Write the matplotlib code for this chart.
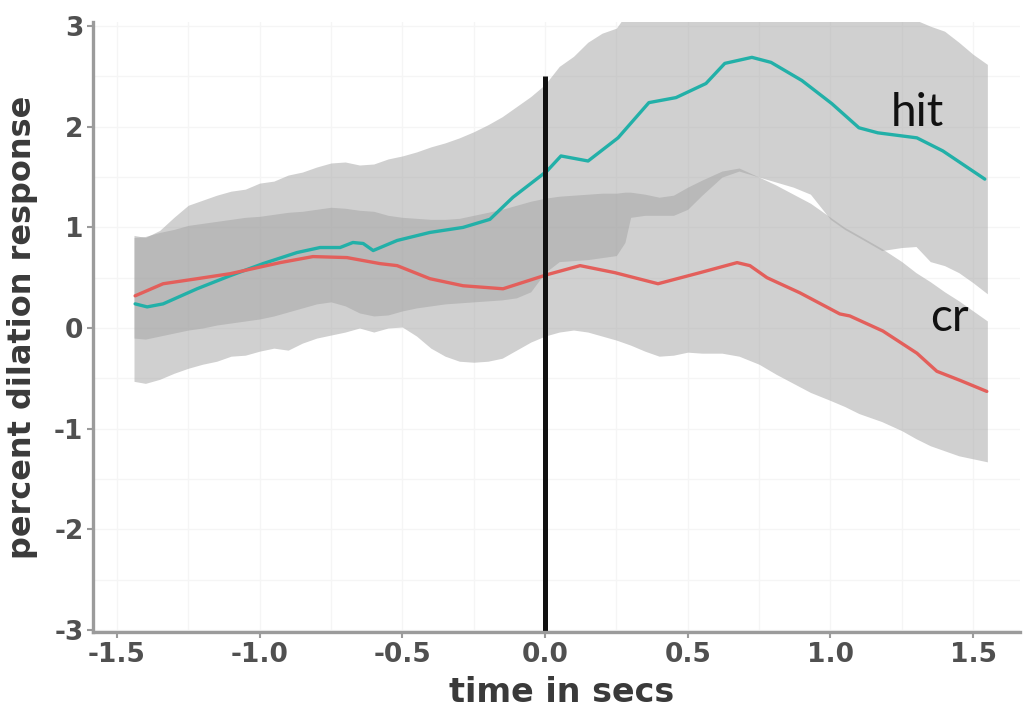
import numpy as np
import matplotlib
matplotlib.use("Agg")
import matplotlib.pyplot as plt
from matplotlib.ticker import MultipleLocator

# mean traces (time in s, percent dilation)
hit_t = [-1.436, -1.394, -1.338, -1.219, -1.103, -0.988, -0.869, -0.788, -0.718, -0.673,
         -0.637, -0.602, -0.518, -0.403, -0.287, -0.193, -0.112, 0.007, 0.056, 0.151,
         0.256, 0.364, 0.459, 0.564, 0.630, 0.725, 0.792, 0.900, 1.005, 1.100,
         1.166, 1.303, 1.394, 1.541]
hit_y = [0.24, 0.21, 0.24, 0.39, 0.52, 0.64, 0.75, 0.80, 0.80, 0.85,
         0.84, 0.77, 0.87, 0.95, 1.00, 1.08, 1.30, 1.56, 1.71, 1.66,
         1.89, 2.24, 2.29, 2.43, 2.63, 2.69, 2.64, 2.46, 2.23, 1.99,
         1.94, 1.89, 1.76, 1.48]

cr_t = [-1.436, -1.338, -1.219, -1.103, -0.928, -0.813, -0.694, -0.578, -0.518, -0.403,
        -0.287, -0.147, 0.007, 0.123, 0.245, 0.396, 0.543, 0.673, 0.718, 0.778,
        0.893, 1.033, 1.068, 1.184, 1.303, 1.373, 1.454, 1.548]
cr_y = [0.32, 0.44, 0.49, 0.54, 0.65, 0.71, 0.70, 0.64, 0.62, 0.49,
        0.42, 0.39, 0.53, 0.62, 0.55, 0.44, 0.55, 0.65, 0.62, 0.50,
        0.35, 0.14, 0.12, -0.03, -0.25, -0.43, -0.52, -0.63]

# confidence ribbons
band_t = [-1.44, -1.40, -1.35, -1.30, -1.25, -1.20, -1.15, -1.10, -1.05, -1.00,
          -0.95, -0.90, -0.85, -0.80, -0.75, -0.70, -0.65, -0.60, -0.55, -0.50,
          -0.45, -0.40, -0.35, -0.30, -0.25, -0.20, -0.15, -0.10, -0.05, 0.00,
          0.05, 0.10, 0.15, 0.20, 0.25, 0.28, 0.30, 0.35, 0.40, 0.45,
          0.50, 0.55, 0.62, 0.68, 0.75, 0.81, 0.87, 0.93, 1.00, 1.05,
          1.10, 1.18, 1.25, 1.30, 1.35, 1.40, 1.45, 1.50, 1.55]
hit_hi = [0.92, 0.90, 0.97, 1.10, 1.22, 1.27, 1.32, 1.36, 1.38, 1.44,
          1.46, 1.52, 1.55, 1.60, 1.64, 1.65, 1.62, 1.63, 1.68, 1.71,
          1.75, 1.80, 1.84, 1.89, 1.95, 2.02, 2.10, 2.20, 2.30, 2.42,
          2.60, 2.70, 2.84, 2.93, 2.98, 3.10, 3.20, 3.25, 3.25, 3.25,
          3.25, 3.30, 3.30, 3.30, 3.30, 3.30, 3.30, 3.30, 3.30, 3.28,
          3.25, 3.20, 3.12, 3.06, 3.00, 2.95, 2.84, 2.72, 2.62]
hit_lo = [-0.10, -0.11, -0.08, -0.05, -0.02, 0.00, 0.03, 0.05, 0.07, 0.09,
          0.12, 0.16, 0.20, 0.24, 0.26, 0.22, 0.15, 0.12, 0.13, 0.17,
          0.20, 0.22, 0.24, 0.25, 0.26, 0.27, 0.28, 0.30, 0.36, 0.55,
          0.66, 0.67, 0.68, 0.70, 0.72, 0.85, 1.10, 1.12, 1.12, 1.12,
          1.18, 1.32, 1.50, 1.56, 1.50, 1.45, 1.40, 1.33, 1.08, 0.98,
          0.90, 0.77, 0.80, 0.81, 0.66, 0.62, 0.55, 0.45, 0.34]
cr_hi = [0.90, 0.91, 0.95, 0.98, 1.02, 1.04, 1.06, 1.08, 1.10, 1.11,
         1.13, 1.15, 1.16, 1.18, 1.20, 1.19, 1.17, 1.16, 1.12, 1.10,
         1.09, 1.08, 1.08, 1.09, 1.12, 1.15, 1.18, 1.22, 1.26, 1.29,
         1.31, 1.32, 1.33, 1.34, 1.34, 1.35, 1.35, 1.33, 1.30, 1.32,
         1.40, 1.47, 1.56, 1.59, 1.50, 1.42, 1.33, 1.24, 1.10, 1.00,
         0.92, 0.79, 0.66, 0.55, 0.46, 0.36, 0.27, 0.17, 0.07]
cr_lo = [-0.53, -0.55, -0.51, -0.45, -0.40, -0.36, -0.33, -0.28, -0.27, -0.23,
         -0.20, -0.22, -0.15, -0.10, -0.07, -0.04, 0.00, -0.04, 0.00, 0.01,
         -0.08, -0.20, -0.28, -0.33, -0.34, -0.33, -0.30, -0.22, -0.14, -0.08,
         -0.04, -0.02, -0.04, -0.08, -0.12, -0.15, -0.17, -0.23, -0.28, -0.27,
         -0.24, -0.25, -0.25, -0.28, -0.36, -0.46, -0.55, -0.64, -0.72, -0.78,
         -0.85, -0.93, -1.02, -1.10, -1.17, -1.22, -1.27, -1.30, -1.33]

fig = plt.figure(figsize=(10.24, 7.14), dpi=100)
ax = fig.add_axes([0.091, 0.115, 0.905, 0.854])

ax.fill_between(band_t, hit_lo, hit_hi, color="#a3a3a3", alpha=0.51, lw=0)
ax.fill_between(band_t, cr_lo, cr_hi, color="#a3a3a3", alpha=0.51, lw=0)
ax.plot(hit_t, hit_y, color="#22b0a8", lw=2.4, solid_capstyle="round")
ax.plot(cr_t, cr_y, color="#e35f5b", lw=2.4, solid_capstyle="round")
ax.plot([0, 0], [-3.05, 2.5], color="#111111", lw=3.6, solid_capstyle="butt")

ax.text(1.21, 2.01, "hit", fontsize=33, family="Lato", color="#111111")
ax.text(1.35, -0.03, "cr", fontsize=33, family="Lato", color="#111111")

ax.set_xlim(-1.583, 1.664)
ax.set_ylim(-3.02, 3.04)
ax.xaxis.set_minor_locator(MultipleLocator(0.25))
ax.yaxis.set_minor_locator(MultipleLocator(0.5))
ax.set_xticks([-1.5, -1.0, -0.5, 0.0, 0.5, 1.0, 1.5])
ax.set_xticklabels(["-1.5", "-1.0", "-0.5", "0.0", "0.5", "1.0", "1.5"])
ax.set_yticks([-3, -2, -1, 0, 1, 2, 3])
ax.set_yticklabels(["-3", "-2", "-1", "0", "1", "2", "3"])
for lab in ax.get_xticklabels() + ax.get_yticklabels():
    lab.set_fontweight("bold")

ax.grid(which="both", color="#f5f5f5", lw=1.0, zorder=0)
ax.set_axisbelow(True)
for s in ["top", "right"]:
    ax.spines[s].set_visible(False)
for s in ["left", "bottom"]:
    ax.spines[s].set_color("#9b9b9b")
    ax.spines[s].set_linewidth(2.4)
ax.tick_params(which="major", color="#9b9b9b", length=4, width=1.5,
               labelsize=19, labelcolor="#505050", pad=3)
ax.tick_params(which="minor", length=0)

ax.set_xlabel("time in secs", fontsize=24, fontweight="bold", color="#3a3a3a")
ax.set_ylabel("percent dilation response", fontsize=23, fontweight="bold", color="#3a3a3a")
ax.xaxis.set_label_coords(0.505, -0.072)
ax.yaxis.set_label_coords(-0.06, 0.5)

fig.savefig("out.png", dpi=100)
